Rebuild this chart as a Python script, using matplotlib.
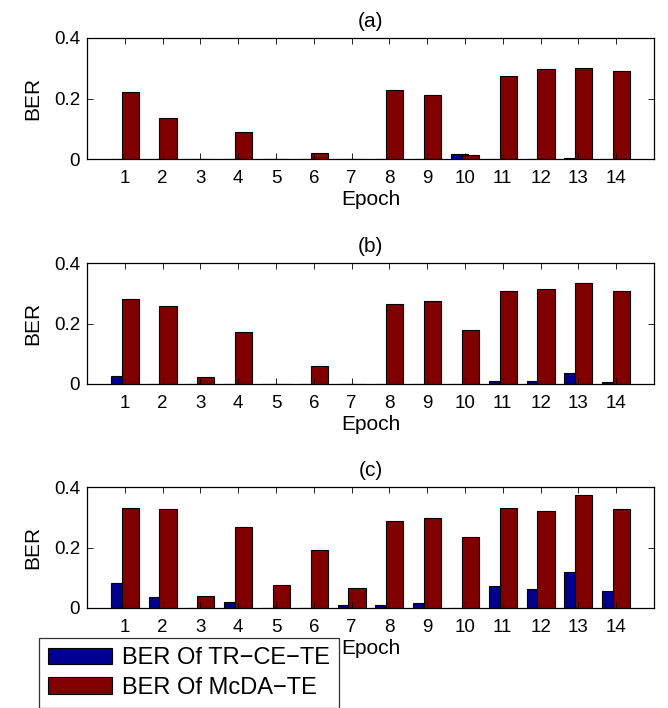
import numpy as np
import matplotlib
matplotlib.use('Agg')
import matplotlib.pyplot as plt

plt.rcParams['font.family'] = ['Liberation Sans', 'DejaVu Sans']
plt.rcParams['font.size'] = 13.5

epochs = np.arange(1, 15)
panel_titles = ['(a)', '(b)', '(c)']
series_labels = ['BER Of TR\u2212CE\u2212TE', 'BER Of McDA\u2212TE']

# BER values, one list per panel
tr_ce_te_a = [0, 0, 0, 0, 0, 0, 0, 0, 0, 0.015, 0, 0, 0.004, 0]
mcda_te_a = [0.222, 0.137, 0.001, 0.088, 0, 0.020, 0, 0.228, 0.211, 0.013,
             0.274, 0.297, 0.301, 0.291]

tr_ce_te_b = [0.025, 0, 0, 0, 0, 0, 0, 0, 0, 0, 0.010, 0.010, 0.037, 0.005]
mcda_te_b = [0.281, 0.259, 0.022, 0.173, 0.001, 0.058, 0.001, 0.264, 0.275, 0.179,
             0.307, 0.313, 0.334, 0.307]

tr_ce_te_c = [0.083, 0.035, 0, 0.020, 0, 0, 0.010, 0.010, 0.015, 0,
              0.072, 0.062, 0.119, 0.057]
mcda_te_c = [0.331, 0.326, 0.040, 0.267, 0.077, 0.193, 0.066, 0.289, 0.299, 0.236,
             0.331, 0.321, 0.373, 0.326]

blue = '#00008F'
red = '#800000'

W, H = 668, 708
fig = plt.figure(figsize=(W / 100, H / 100), dpi=100)

# axes boxes in pixels: (top, bottom)
ax_left, ax_right = 87, 654
boxes = [(38, 159), (263, 384), (487, 608)]
panels = [(tr_ce_te_a, mcda_te_a), (tr_ce_te_b, mcda_te_b), (tr_ce_te_c, mcda_te_c)]

for title, (top, bot), (tr, mc) in zip(panel_titles, boxes, panels):
    ax = fig.add_axes([ax_left / W, 1 - bot / H, (ax_right - ax_left) / W, (bot - top) / H])
    b1 = ax.bar(epochs - 0.143, tr, width=0.46, color=blue, edgecolor='black', linewidth=0.8)
    b2 = ax.bar(epochs + 0.143, mc, width=0.46, color=red, edgecolor='black', linewidth=0.8)
    ax.set_xlim(0, 15)
    ax.set_ylim(0, 0.4)
    ax.set_xticks(epochs)
    ax.set_yticks([0, 0.2, 0.4])
    ax.set_yticklabels(['0', '0.2', '0.4'])
    ax.tick_params(direction='in', top=True, right=True, length=4, width=0.6)
    ax.tick_params(axis='x', pad=8)
    ax.tick_params(axis='y', pad=5)
    ax.set_xlabel('Epoch', fontsize=15, labelpad=2)
    ax.set_ylabel('BER', fontsize=15, labelpad=8)
    ax.set_title(title, fontsize=15, pad=8)
    for s in ax.spines.values():
        s.set_linewidth(0.9)

# legend sits under panel (c) and runs off the bottom edge, as in the original
leg = fig.legend([b1, b2], series_labels, loc='upper left',
                 bbox_to_anchor=(39 / W, 1 - 638 / H), frameon=True, fancybox=False,
                 edgecolor='black', handlelength=2.7, handleheight=0.7,
                 handletextpad=0.4, borderpad=0.4, borderaxespad=0,
                 labelspacing=0.3, fontsize=17)
leg.get_frame().set_linewidth(0.9)

fig.savefig('out.png', dpi=100)
